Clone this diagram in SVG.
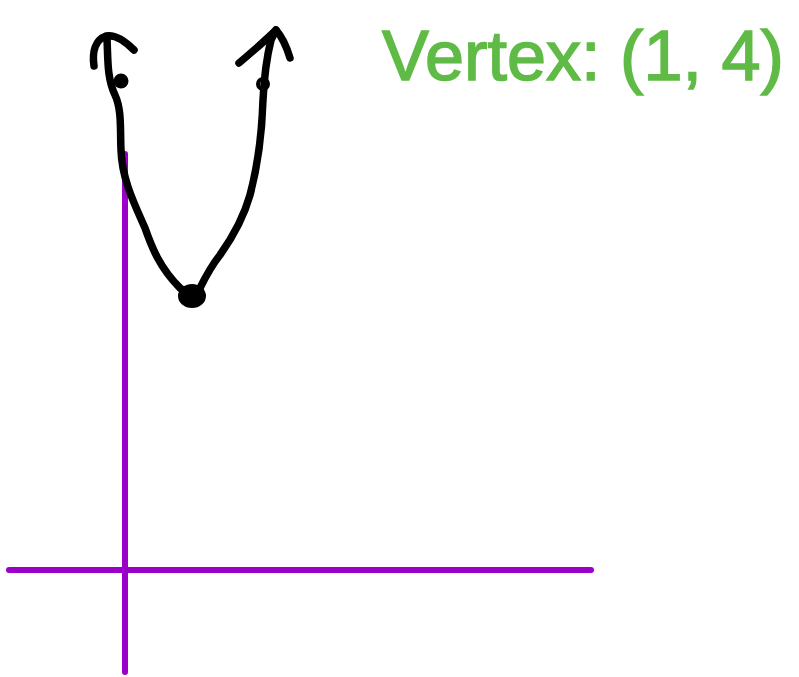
<svg xmlns="http://www.w3.org/2000/svg" width="799" height="677" viewBox="0 0 799 677">
<style>
.ax{stroke:#9b00c9;stroke-width:6;stroke-linecap:round;fill:none}
.ink{stroke:#000;stroke-width:7.5;stroke-linecap:round;stroke-linejoin:round;fill:none}
.lbl{font-family:"Liberation Sans",Arial,sans-serif;font-size:70px;fill:#5fbb46;stroke:#5fbb46;stroke-width:1.5}
</style>
<rect width="799" height="677" fill="#fff"/>
<g id="axes">
<line class="ax" x1="125" y1="154" x2="125" y2="672"/>
<line class="ax" x1="9" y1="570" x2="591" y2="570"/>
</g>
<g id="parabola">
<path class="ink" d="M107,38 C108,60 107,78 115,95 C122,110 120,130 121,150 C122,180 135,205 145,228 C152,248 160,268 180,288 C186,293 194,298 200,288 C205,278 212,265 220,255 C232,238 243,220 250,195 C258,165 262,130 263,100 C264,80 266,60 271,40 L276,30"/>
<path class="ink" d="M94,66 C92,52 95,40 106,36 C116,34 126,42 134,50"/>
<path class="ink" d="M239,63 C252,52 266,40 276,30 C283,38 287,48 290,58"/>
<ellipse cx="121" cy="81" rx="7.5" ry="7.5" fill="#000"/>
<circle cx="263" cy="84" r="5" fill="none" stroke="#000" stroke-width="4"/>
<ellipse cx="192" cy="296" rx="14" ry="12" fill="#000"/>
</g>
<g id="label">
<text class="lbl" x="382" y="80" textLength="402" lengthAdjust="spacingAndGlyphs">Vertex: (1, 4)</text>
</g>
</svg>
